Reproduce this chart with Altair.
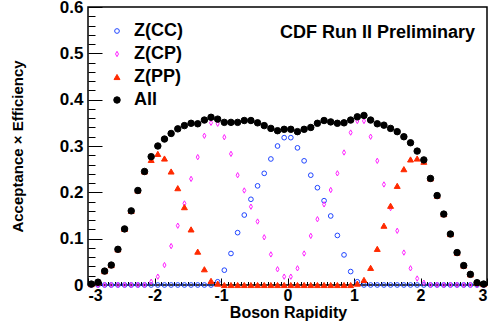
import altair as alt
import pandas as pd

FONT = "Liberation Sans"

rapidity = [-2.95, -2.85, -2.75, -2.65, -2.55, -2.45, -2.35, -2.25, -2.15, -2.05,
            -1.95, -1.85, -1.75, -1.65, -1.55, -1.45, -1.35, -1.25, -1.15, -1.05,
            -0.95, -0.85, -0.75, -0.65, -0.55, -0.45, -0.35, -0.25, -0.15, -0.05,
            0.05, 0.15, 0.25, 0.35, 0.45, 0.55, 0.65, 0.75, 0.85, 0.95,
            1.05, 1.15, 1.25, 1.35, 1.45, 1.55, 1.65, 1.75, 1.85, 1.95,
            2.05, 2.15, 2.25, 2.35, 2.45, 2.55, 2.65, 2.75, 2.85, 2.95]

z_cc = [0, 0, 0, 0, 0, 0, 0, 0, 0, 0,
        0, 0, 0, 0, 0, 0, 0, 0, 0, 0.007,
        0.032, 0.068, 0.113, 0.151, 0.185, 0.214, 0.241, 0.272, 0.300, 0.318,
        0.318, 0.296, 0.268, 0.237, 0.210, 0.182, 0.149, 0.107, 0.065, 0.029,
        0.007, 0, 0, 0, 0, 0, 0, 0, 0, 0,
        0, 0, 0, 0, 0, 0, 0, 0, 0, 0]

z_cp = [0, 0, 0, 0, 0, 0, 0, 0, 0, 0.007,
        0.018, 0.043, 0.084, 0.128, 0.176, 0.229, 0.276, 0.322, 0.350, 0.348,
        0.319, 0.283, 0.237, 0.204, 0.169, 0.137, 0.103, 0.066, 0.034, 0.018,
        0.018, 0.036, 0.068, 0.106, 0.142, 0.174, 0.205, 0.241, 0.286, 0.329,
        0.354, 0.354, 0.320, 0.268, 0.217, 0.166, 0.117, 0.070, 0.036, 0.014,
        0.005, 0, 0, 0, 0, 0, 0, 0, 0, 0]

z_pp = [0.002, 0.006, 0.030, 0.043, 0.077, 0.121, 0.160, 0.204, 0.245, 0.270,
        0.283, 0.273, 0.245, 0.209, 0.168, 0.120, 0.072, 0.034, 0.009, 0.003,
        0, 0, 0, 0, 0, 0, 0, 0, 0, 0,
        0, 0, 0, 0, 0, 0, 0, 0, 0, 0,
        0.003, 0.011, 0.037, 0.078, 0.128, 0.171, 0.214, 0.250, 0.271, 0.273,
        0.266, 0.230, 0.193, 0.153, 0.110, 0.070, 0.042, 0.023, 0.005, 0.002]

z_all = [0.002, 0.006, 0.030, 0.043, 0.077, 0.121, 0.160, 0.204, 0.245, 0.277,
         0.300, 0.315, 0.327, 0.337, 0.344, 0.349, 0.348, 0.356, 0.362, 0.358,
         0.351, 0.351, 0.351, 0.355, 0.355, 0.350, 0.344, 0.338, 0.333, 0.336,
         0.336, 0.331, 0.336, 0.340, 0.349, 0.355, 0.352, 0.349, 0.350, 0.356,
         0.363, 0.366, 0.356, 0.348, 0.345, 0.338, 0.331, 0.320, 0.307, 0.289,
         0.270, 0.230, 0.193, 0.153, 0.110, 0.070, 0.042, 0.023, 0.005, 0.002]

series_names = ["Z(CC)", "Z(CP)", "Z(PP)", "All"]
x_major = [-3, -2, -1, 0, 1, 2, 3]
y_major = [0, 0.1, 0.2, 0.3, 0.4, 0.5, 0.6]
x_ticks = [round(-3 + 0.1 * i, 1) for i in range(61)]
y_ticks = [round(0.02 * i, 2) for i in range(31)]

rows = []
for name, vals in zip(series_names, [z_cc, z_cp, z_pp, z_all]):
    for r, v in zip(rapidity, vals):
        rows.append({"rapidity": r, "value": v, "series": name})
df = pd.DataFrame(rows)

W, H = 399, 278

stroke_colors = ["#1f45ff", "#ff22ff", "#ff2a00", "#000000"]
fill_colors = ["transparent", "transparent", "#ff2a00", "#000000"]
shapes = ["circle", "M0,-1L0.55,0L0,1L-0.55,0Z", "triangle-up", "circle"]
sizes = [22, 42, 14, 12]

legend = alt.Legend(orient="none", legendX=20, legendY=15, title=None,
                    labelFont=FONT, labelFontSize=18, labelFontWeight="bold",
                    labelColor="black", rowPadding=5, labelOffset=8,
                    symbolStrokeWidth=1, padding=0)

xscale = alt.Scale(domain=[-3, 3], nice=False, zero=False)
yscale = alt.Scale(domain=[0, 0.6], nice=False, zero=False)

points = alt.Chart(df).mark_point(filled=True, opacity=1, strokeWidth=1).encode(
    x=alt.X("rapidity:Q", scale=xscale,
            axis=alt.Axis(values=x_major, ticks=False, domain=False, grid=False,
                          labelExpr="toString(datum.value)",
                          labelFont=FONT, labelFontSize=16, labelFontWeight="bold",
                          labelColor="black", labelPadding=2,
                          title="Boson Rapidity", titleFont=FONT, titleFontSize=16,
                          titleFontWeight="bold", titleColor="black",
                          titleX=200, titleY=32, titleBaseline="alphabetic",
                          titleAlign="center")),
    y=alt.Y("value:Q", scale=yscale,
            axis=alt.Axis(values=y_major, ticks=False, domain=False, grid=False,
                          labelExpr="datum.value == 0 ? '0' : format(datum.value, '.1f')",
                          labelFont=FONT, labelFontSize=17, labelFontWeight="bold",
                          labelColor="black", labelPadding=5,
                          title="Acceptance \u00d7 Efficiency", titleFont=FONT,
                          titleFontSize=15, titleFontWeight="bold", titleColor="black",
                          titleX=-71, titleY=139, titleAngle=270,
                          titleAlign="center", titleBaseline="middle")),
    shape=alt.Shape("series:N", scale=alt.Scale(domain=series_names, range=shapes), legend=legend),
    stroke=alt.Stroke("series:N", scale=alt.Scale(domain=series_names, range=stroke_colors), legend=legend),
    fill=alt.Fill("series:N", scale=alt.Scale(domain=series_names, range=fill_colors), legend=legend),
    size=alt.Size("series:N", scale=alt.Scale(domain=series_names, range=sizes), legend=legend),
)

tick_axes = alt.Chart(df).mark_point(opacity=0).encode(
    x=alt.X("rapidity:Q", scale=xscale,
            axis=alt.Axis(orient="top", offset=-H, values=x_ticks, labels=False,
                          domain=False, grid=False, title=None, tickColor="black",
                          tickWidth=1,
                          tickSize={"condition": {"test": "abs(datum.value - round(datum.value)) < 0.001", "value": 7},
                                    "value": 3.5})),
    y=alt.Y("value:Q", scale=yscale,
            axis=alt.Axis(orient="right", offset=-W, values=y_ticks, labels=False,
                          domain=False, grid=False, title=None, tickColor="black",
                          tickWidth=1,
                          tickSize={"condition": {"test": "abs(datum.value * 10 - round(datum.value * 10)) < 0.001", "value": 14},
                                    "value": 7})),
)

chart = alt.layer(points, tick_axes).resolve_axis(
    x="independent", y="independent"
).properties(
    width=W, height=H,
    autosize=alt.AutoSizeParams(type="none"),
    padding={"left": 88, "top": 7, "right": 4, "bottom": 42},
    background="white",
    title=alt.TitleParams("CDF Run II Preliminary", anchor="end", frame="group",
                          orient="top", font=FONT, fontSize=18, fontWeight="bold",
                          color="black", baseline="top", offset=0, dx=-12, dy=44),
).configure_view(stroke="black", strokeWidth=1.5)

chart.save("out.html", embed_options={"renderer": "svg", "actions": False})
